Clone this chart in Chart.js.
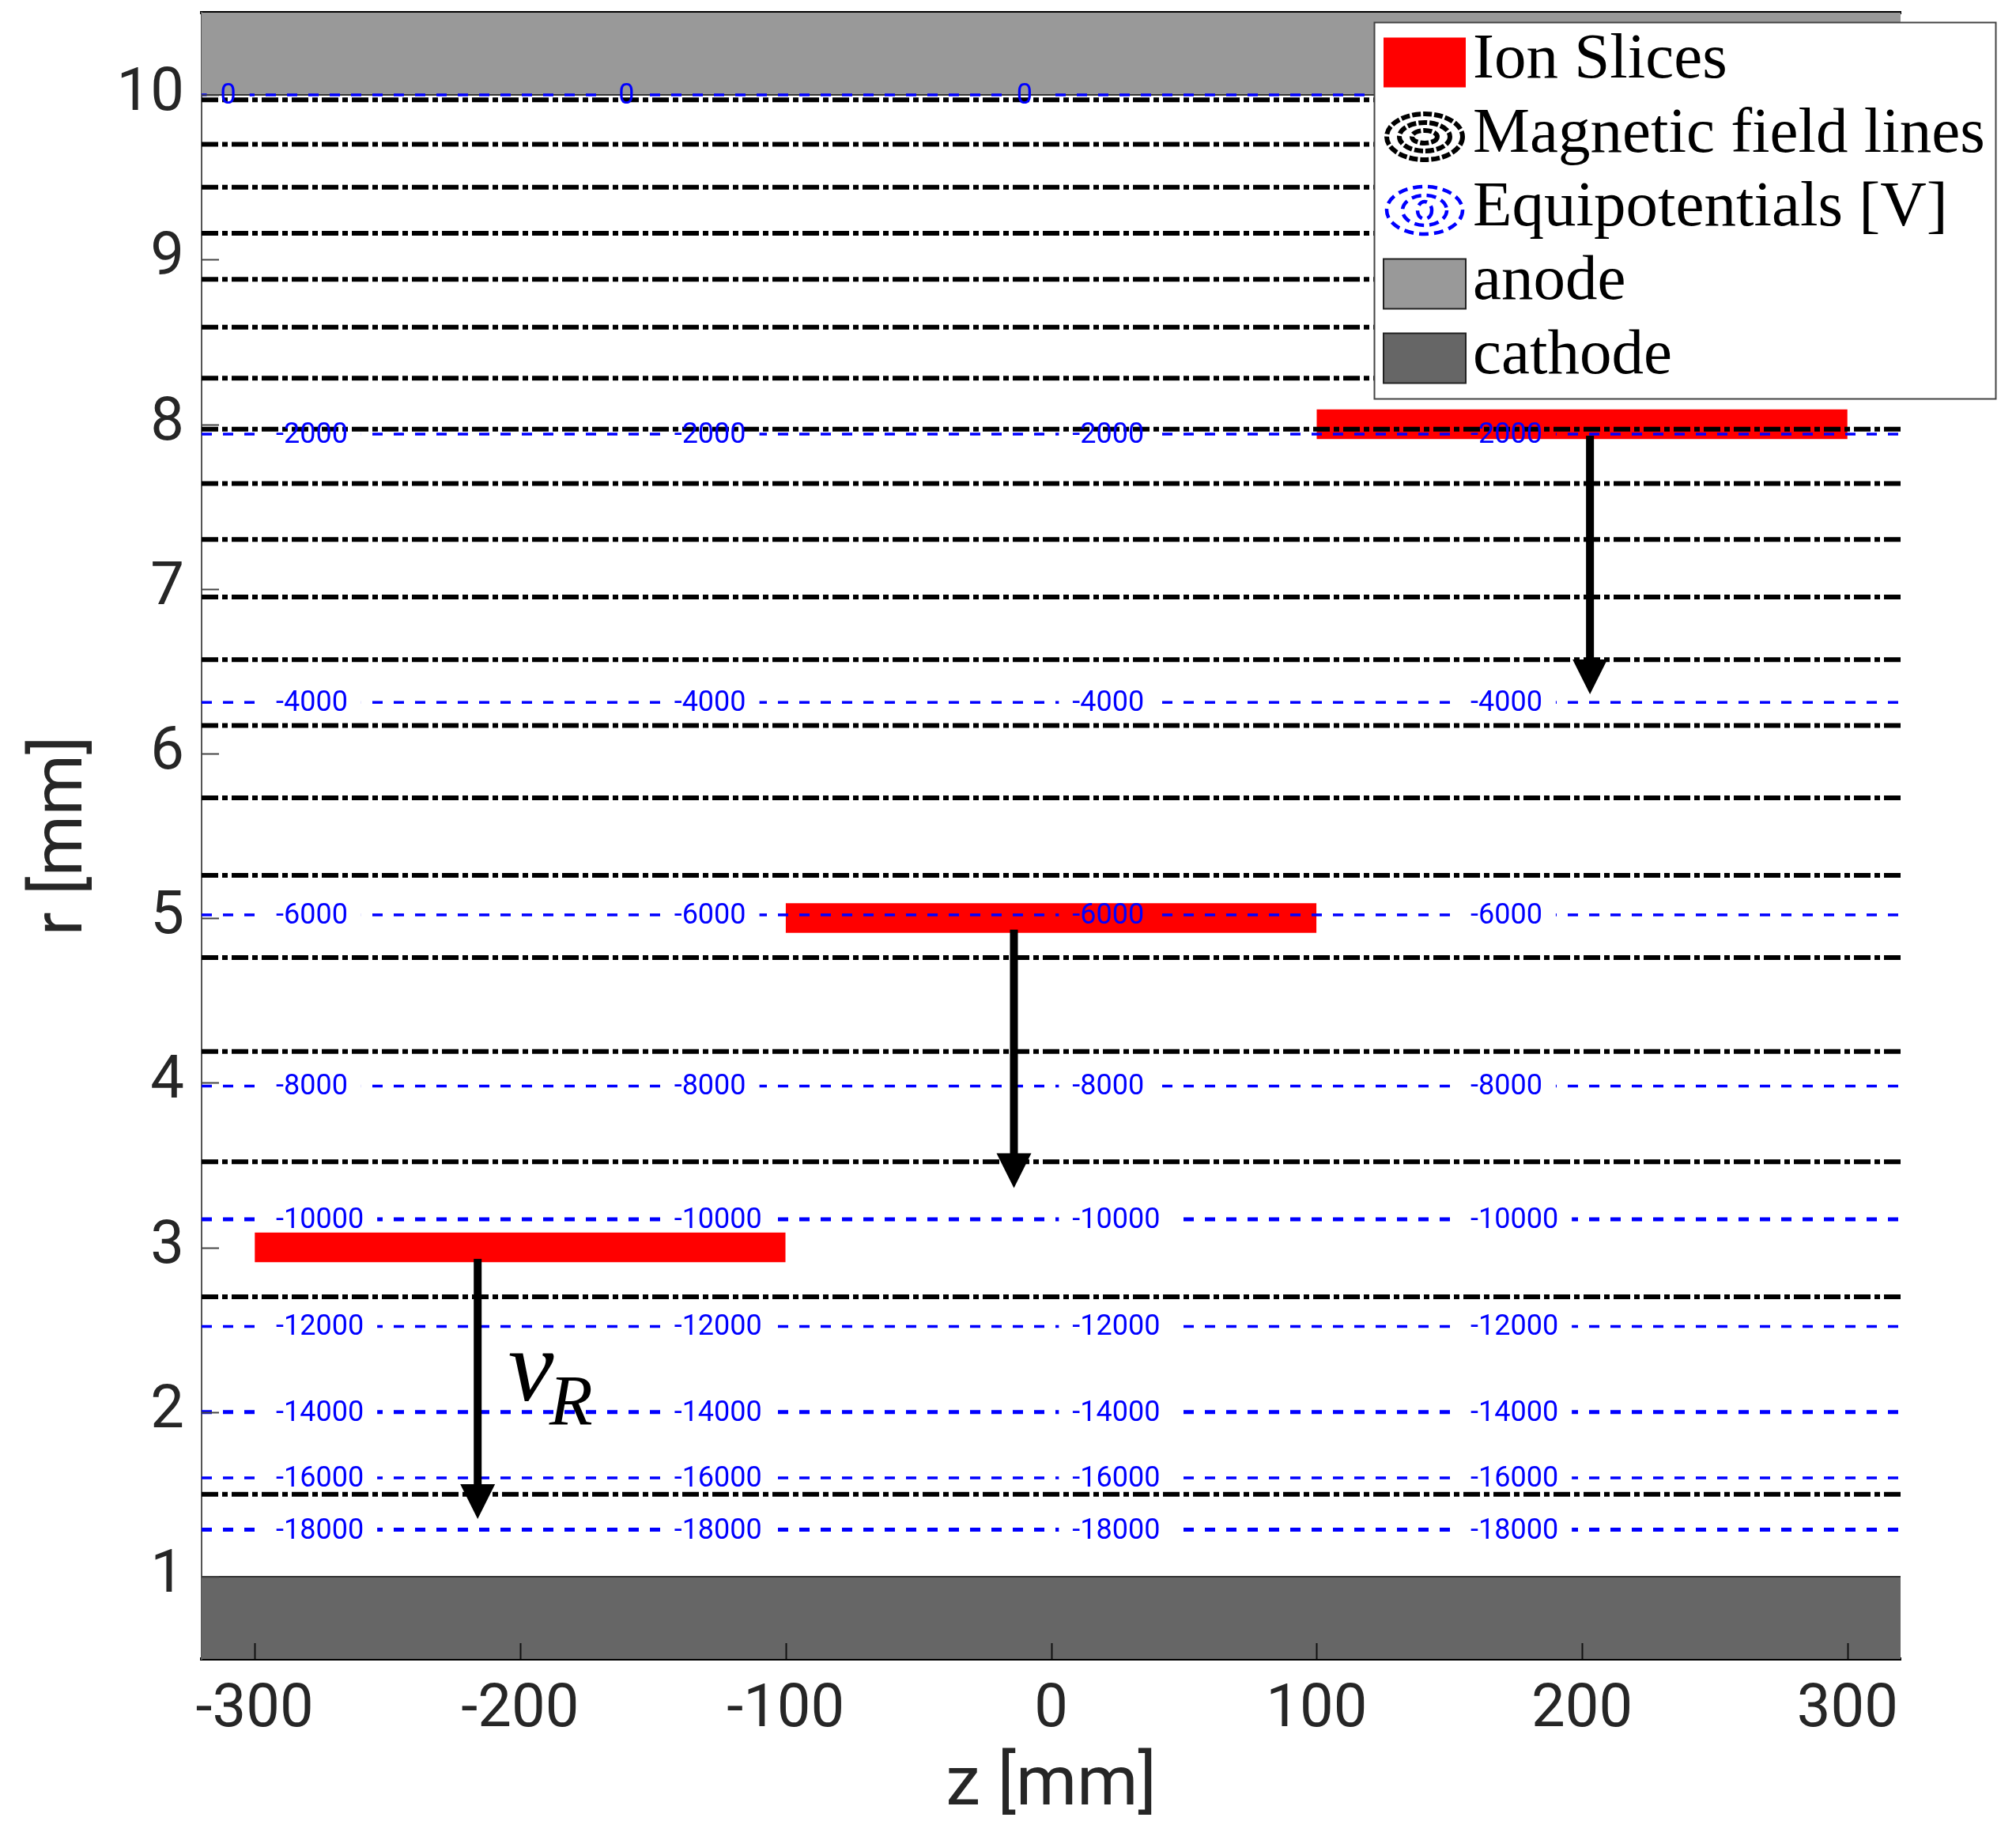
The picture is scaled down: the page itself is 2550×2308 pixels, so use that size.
<!DOCTYPE html>
<html>
<head>
<meta charset="utf-8">
<script src="https://cdn.jsdelivr.net/npm/chart.js@4.4.1/dist/chart.umd.min.js"></script>
<style>
  html, body { margin: 0; padding: 0; background: #fff; }
</style>
</head>
<body>
<canvas id="chart" width="2550" height="2308"></canvas>
<script>
// series names (legend)
const seriesNames = ['Ion Slices', 'Magnetic field lines', 'Equipotentials [V]', 'anode', 'cathode'];

// axes
const zTicks = [-300, -200, -100, 0, 100, 200, 300];
const rTicks = [1, 2, 3, 4, 5, 6, 7, 8, 9, 10];
const zRange = [-320, 320];
const rRange = [0.5, 10.5];

// magnetic field lines (r of each line, mm)
const fieldLineR = [9.97, 9.70, 9.44, 9.16, 8.88, 8.59, 8.28, 7.97, 7.64, 7.30,
                    6.95, 6.57, 6.17, 5.73, 5.26, 4.76, 4.19, 3.52, 2.70, 1.50];

// equipotentials
const potentialV = [0, -2000, -4000, -6000, -8000, -10000, -12000, -14000, -16000, -18000];
const potentialR = [10.0, 7.94, 6.31, 5.02, 3.98, 3.17, 2.52, 2.00, 1.60, 1.285];
const labelZ = [-292, -142, 8, 158];       // where the contour labels start
const zeroLabelZ = [-313, -163, -13, 137];

// ion slices
const sliceZStart = [100, -100, -300];
const sliceZEnd = [300, 100, -100];
const sliceR = [8.0, 5.0, 3.0];
const sliceThickness = 0.18;

// velocity arrows
const arrowZ = [203, -14, -216];
const arrowFromR = [7.93, 4.93, 2.93];
const arrowToR = [6.36, 3.36, 1.35];
const vLabelZ = -204.5;
const vLabelR = 2.07;

// electrodes
const anodeR = 10;
const cathodeR = 1;

const BLUE = '#0000ff';
const LABEL_FONT = '36px Roboto';

const datasets = [];

// anode / cathode
datasets.push({
    label: seriesNames[3], kind: 'anode',
    data: [{x: zRange[0], y: anodeR}, {x: zRange[1], y: anodeR}],
    borderColor: '#333', borderWidth: 2, backgroundColor: '#999999',
    fill: 'end', pointRadius: 0, order: 6
});
datasets.push({
    label: seriesNames[4], kind: 'cathode',
    data: [{x: zRange[0], y: cathodeR}, {x: zRange[1], y: cathodeR}],
    borderColor: '#333', borderWidth: 2, backgroundColor: '#666666',
    fill: 'start', pointRadius: 0, order: 6
});

// ion slices
sliceR.forEach((r, i) => {
    datasets.push({
        label: seriesNames[0], kind: 'slice',
        data: [{x: sliceZStart[i], y: r + sliceThickness / 2}, {x: sliceZEnd[i], y: r + sliceThickness / 2}],
        borderWidth: 0, borderColor: 'rgba(0,0,0,0)', backgroundColor: '#ff0000',
        fill: {value: r - sliceThickness / 2}, pointRadius: 0, order: 5
    });
});

// field lines
fieldLineR.forEach(r => {
    datasets.push({
        label: seriesNames[1], kind: 'field',
        data: [{x: zRange[0], y: r}, {x: zRange[1], y: r}],
        borderColor: '#000', borderWidth: 6, borderDash: [21, 5, 7, 5],
        pointRadius: 0, fill: false, order: 3
    });
});

// equipotentials
const boldV = [-10000, -14000, -18000];
potentialR.forEach((r, i) => {
    datasets.push({
        label: seriesNames[2], kind: 'equi',
        potential: potentialV[i], rValue: r,
        labelStarts: potentialV[i] === 0 ? zeroLabelZ : labelZ,
        data: [{x: zRange[0], y: r}, {x: zRange[1], y: r}],
        borderColor: BLUE, borderWidth: boldV.includes(potentialV[i]) ? 5 : 3.5,
        borderDash: [13, 14], pointRadius: 0, fill: false, order: 2
    });
});

// break the blue lines where their labels go
const contourGaps = {
    id: 'contourGaps',
    beforeDatasetDraw(chart, args) {
        const ds = chart.data.datasets[args.index];
        if (ds.kind !== 'equi') return;
        const ctx = chart.ctx;
        const xs = chart.scales.x, ys = chart.scales.y;
        ctx.save();
        ctx.font = LABEL_FONT;
        const w = ctx.measureText(String(ds.potential)).width;
        const py = ys.getPixelForValue(ds.rValue);
        ctx.beginPath();
        ctx.rect(0, 0, chart.width, chart.height);
        ds.labelStarts.forEach(z => {
            const px = xs.getPixelForValue(z);
            ctx.rect(px - 17, py - 20, w + 34, 40);
        });
        ctx.clip('evenodd');
    },
    afterDatasetDraw(chart, args) {
        const ds = chart.data.datasets[args.index];
        if (ds.kind === 'equi') chart.ctx.restore();
    }
};

// contour labels, arrows, v_R, inner tick marks
const overlays = {
    id: 'overlays',
    afterDatasetsDraw(chart) {
        const ctx = chart.ctx;
        const xs = chart.scales.x, ys = chart.scales.y;
        const area = chart.chartArea;

        ctx.save();
        ctx.beginPath();
        ctx.rect(area.left, area.top, area.right - area.left, area.bottom - area.top);
        ctx.clip();

        // contour labels
        ctx.font = LABEL_FONT;
        ctx.fillStyle = BLUE;
        ctx.textAlign = 'left';
        ctx.textBaseline = 'middle';
        chart.data.datasets.filter(d => d.kind === 'equi').forEach(ds => {
            const py = ys.getPixelForValue(ds.rValue);
            ds.labelStarts.forEach(z => {
                ctx.fillText(String(ds.potential), xs.getPixelForValue(z), py + 2);
            });
        });

        // arrows
        ctx.fillStyle = '#000';
        arrowZ.forEach((z, i) => {
            const px = xs.getPixelForValue(z);
            const y0 = ys.getPixelForValue(arrowFromR[i]);
            const y1 = ys.getPixelForValue(arrowToR[i]);
            ctx.fillRect(px - 5, y0, 10, y1 - y0 - 40);
            ctx.beginPath();
            ctx.moveTo(px - 22, y1 - 44);
            ctx.lineTo(px + 22, y1 - 44);
            ctx.lineTo(px, y1);
            ctx.closePath();
            ctx.fill();
        });

        // v_R
        const vx = xs.getPixelForValue(vLabelZ), vy = ys.getPixelForValue(vLabelR);
        ctx.textBaseline = 'alphabetic';
        ctx.font = 'italic 130px "Liberation Serif"';
        ctx.fillText('v', vx, vy);
        ctx.font = 'italic 90px "Liberation Serif"';
        ctx.fillText('R', vx + 52, vy + 31);

        // tick marks drawn inside the box
        ctx.lineWidth = 2;
        ctx.strokeStyle = '#444';
        rTicks.forEach(v => {
            const py = Math.round(ys.getPixelForValue(v)) + 0.5;
            ctx.beginPath();
            ctx.moveTo(area.left, py);
            ctx.lineTo(area.left + 22, py);
            ctx.stroke();
        });
        ctx.strokeStyle = '#111';
        zTicks.forEach(v => {
            const px = Math.round(xs.getPixelForValue(v)) + 0.5;
            ctx.beginPath();
            ctx.moveTo(px, area.bottom);
            ctx.lineTo(px, area.bottom - 20);
            ctx.stroke();
        });
        ctx.restore();
    }
};

function ellipses(ctx, cx, cy, radii, color, width, dash) {
    ctx.save();
    ctx.strokeStyle = color;
    ctx.lineWidth = width;
    ctx.setLineDash(dash);
    radii.forEach(([rx, ry]) => {
        ctx.beginPath();
        ctx.ellipse(cx, cy, rx, ry, 0, 0, Math.PI * 2);
        ctx.stroke();
    });
    ctx.restore();
}

// legend box in the upper right
const boxLegend = {
    id: 'boxLegend',
    afterDraw(chart) {
        const ctx = chart.ctx;
        const left = chart.chartArea.right - 666, top = chart.chartArea.top + 12;
        const w = 786, h = 476;
        ctx.save();
        ctx.fillStyle = '#fff';
        ctx.fillRect(left, top, w, h);
        ctx.strokeStyle = '#444';
        ctx.lineWidth = 2;
        ctx.strokeRect(left + 0.5, top + 0.5, w, h);

        const baselines = [70, 164, 257, 350, 444];
        const swX = left + 12, swW = 104, swH = 63;
        seriesNames.forEach((name, i) => {
            const base = top + baselines[i];
            const cy = base - 19;
            if (i === 0) {
                ctx.fillStyle = '#ff0000';
                ctx.fillRect(swX, cy - swH / 2, swW, swH);
            } else if (i === 1) {
                ellipses(ctx, swX + 52, cy, [[48, 29], [32, 18], [16, 8]], '#000', 6, [11, 3]);
            } else if (i === 2) {
                ellipses(ctx, swX + 52, cy, [[48, 30], [28, 19], [9, 11]], BLUE, 4.5, [12, 7]);
            } else {
                ctx.fillStyle = i === 3 ? '#999999' : '#666666';
                ctx.fillRect(swX, cy - swH / 2, swW, swH);
                ctx.strokeStyle = '#222';
                ctx.lineWidth = 2;
                ctx.strokeRect(swX, cy - swH / 2, swW, swH);
            }
            ctx.fillStyle = '#000';
            ctx.font = '81px "Liberation Serif"';
            ctx.textBaseline = 'alphabetic';
            ctx.textAlign = 'left';
            ctx.fillText(name, left + 125, base);
        });
        ctx.restore();
    }
};

const tickColor = '#262626';

new Chart(document.getElementById('chart'), {
    type: 'line',
    data: {datasets},
    options: {
        responsive: false,
        devicePixelRatio: 1,
        animation: false,
        events: [],
        layout: {padding: {left: 0, right: 146, top: 0, bottom: 0}},
        plugins: {legend: {display: false}, tooltip: {enabled: false}},
        scales: {
            x: {
                type: 'linear', position: 'bottom', min: zRange[0], max: zRange[1], z: 1,
                afterBuildTicks: s => { s.ticks = zTicks.map(v => ({value: v})); },
                afterFit: s => { s.height = 210; s.paddingLeft = 0; s.paddingRight = 0; },
                grid: {display: false, drawTicks: false},
                border: {display: true, color: '#000', width: 4},
                ticks: {autoSkip: false, maxRotation: 0, padding: 20, color: tickColor,
                        font: {family: 'Roboto', size: 76}},
                title: {display: true, text: 'z [mm]', color: tickColor,
                        font: {family: 'Roboto', size: 88, lineHeight: 1}, padding: {top: 0, bottom: 4}}
            },
            xTop: {
                type: 'linear', position: 'top', min: zRange[0], max: zRange[1], z: 1,
                afterFit: s => { s.height = 16; s.paddingLeft = 0; s.paddingRight = 0; },
                grid: {display: false, drawTicks: false},
                border: {display: true, color: '#000', width: 4},
                ticks: {display: false}
            },
            y: {
                type: 'linear', position: 'left', min: rRange[0], max: rRange[1], z: 1,
                afterBuildTicks: s => { s.ticks = rTicks.map(v => ({value: v})); },
                afterFit: s => { s.width = 255; s.paddingTop = 0; s.paddingBottom = 0; },
                grid: {display: false, drawTicks: false},
                border: {display: true, color: '#555', width: 2},
                ticks: {padding: 22, color: tickColor, font: {family: 'Roboto', size: 76}},
                title: {display: true, text: 'r [mm]', color: tickColor,
                        font: {family: 'Roboto', size: 88, lineHeight: 1}, padding: {top: 37, bottom: 0}}
            }
        }
    },
    plugins: [contourGaps, overlays, boxLegend]
});
</script>
</body>
</html>
